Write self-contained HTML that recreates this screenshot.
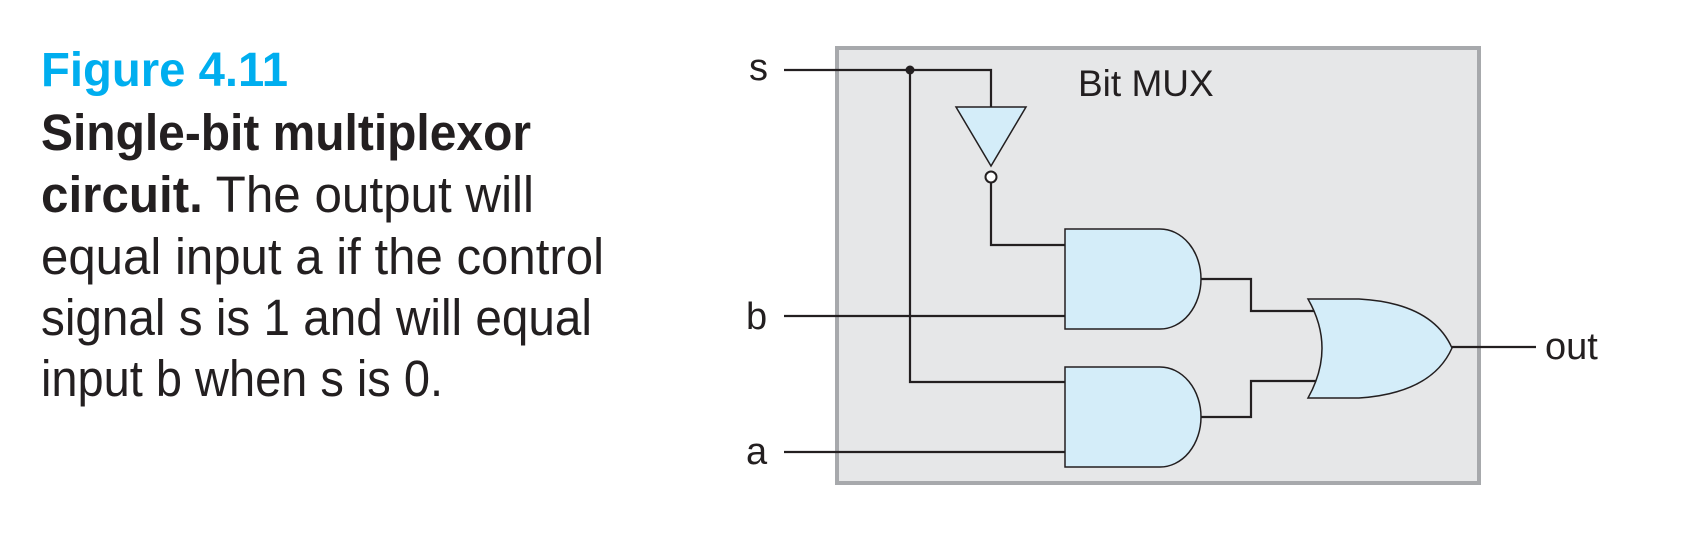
<!DOCTYPE html>
<html><head><meta charset="utf-8"><style>html,body{margin:0;padding:0;background:#fff}svg{display:block}</style></head>
<body>
<svg width="1684" height="544" viewBox="0 0 1684 544" xmlns="http://www.w3.org/2000/svg">
<g font-family="Liberation Sans, sans-serif">
<text x="41" y="86" font-size="48" font-weight="bold" fill="#00aeef" textLength="247" lengthAdjust="spacingAndGlyphs">Figure 4.11</text>
<text x="41" y="150" font-size="51" font-weight="bold" fill="#231f20" textLength="490" lengthAdjust="spacingAndGlyphs">Single-bit multiplexor</text>
<text x="41" y="212" font-size="51" fill="#231f20" textLength="493" lengthAdjust="spacingAndGlyphs"><tspan font-weight="bold">circuit.</tspan> The output will</text>
<text x="41" y="274" font-size="51" fill="#231f20" textLength="563" lengthAdjust="spacingAndGlyphs">equal input a if the control</text>
<text x="41" y="335" font-size="51" fill="#231f20" textLength="551" lengthAdjust="spacingAndGlyphs">signal s is 1 and will equal</text>
<text x="41" y="396" font-size="51" fill="#231f20" textLength="402" lengthAdjust="spacingAndGlyphs">input b when s is 0.</text>
</g>
<rect x="837" y="48" width="642" height="435" fill="#e6e7e8" stroke="#a7a9ac" stroke-width="4"/>
<g fill="none" stroke="#231f20" stroke-width="2.2">
<polyline points="784,70 991,70 991,107"/>
<polyline points="910,70 910,382 1065,382"/>
<polyline points="991,183 991,245 1065,245"/>
<line x1="784" y1="316" x2="1065" y2="316"/>
<line x1="784" y1="452" x2="1065" y2="452"/>
<polyline points="1201,279 1251,279 1251,311 1318,311"/>
<polyline points="1201,417 1251,417 1251,381 1318,381"/>
<line x1="1452" y1="347" x2="1536" y2="347"/>
</g>
<circle cx="910" cy="70" r="4.5" fill="#231f20"/>
<g fill="#d4edf9" stroke="#231f20" stroke-width="1.5">
<polygon points="956,107 1026,107 991,166"/>
<circle cx="991" cy="177" r="5.5" fill="#fff" stroke-width="2"/>
<path d="M1065,229 H1160 A41,50 0 0 1 1160,329 H1065 Z"/>
<path d="M1065,367 H1160 A41,50 0 0 1 1160,467 H1065 Z"/>
<path d="M1308,299 H1359 Q1432,303 1452,348 Q1432,393 1359,398 H1308 Q1336,348 1308,299 Z"/>
</g>
<g font-family="Liberation Sans, sans-serif" fill="#231f20">
<text x="1078" y="96" font-size="37">Bit MUX</text>
<text x="749" y="80" font-size="38">s</text>
<text x="746" y="329" font-size="38">b</text>
<text x="746" y="464" font-size="38">a</text>
<text x="1545" y="359" font-size="38">out</text>
</g>
</svg>
</body></html>
